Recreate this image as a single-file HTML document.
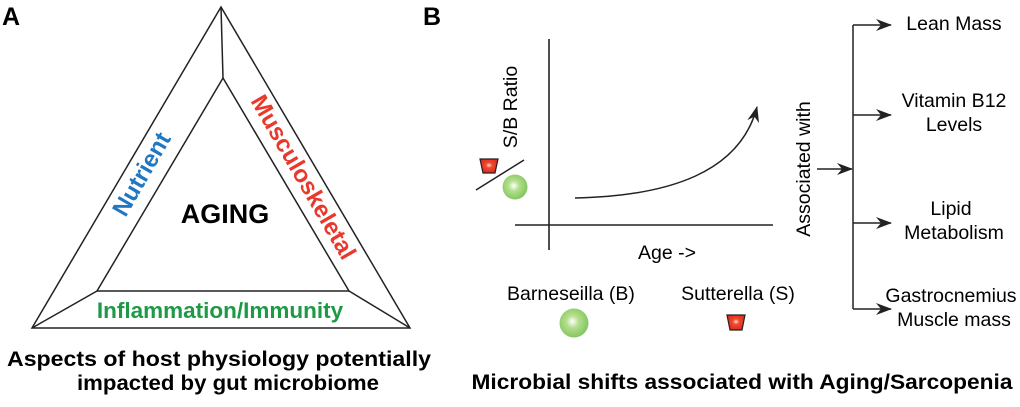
<!DOCTYPE html>
<html><head><meta charset="utf-8"><style>
html,body{margin:0;padding:0;background:#fff;width:1020px;height:407px;overflow:hidden}
svg text{font-family:"Liberation Sans",Arial,sans-serif}
</style></head><body>
<svg width="1020" height="407" viewBox="0 0 1020 407">
<defs>
<radialGradient id="gg" cx="0.45" cy="0.45" r="0.6"><stop offset="0" stop-color="#ffffff"/><stop offset="0.35" stop-color="#b6df8e"/><stop offset="1" stop-color="#7cc35a"/></radialGradient>
<radialGradient id="rg" cx="0.5" cy="0.45" r="0.6"><stop offset="0" stop-color="#ffe0d0"/><stop offset="0.3" stop-color="#f24a2e"/><stop offset="1" stop-color="#d8251a"/></radialGradient>
<marker id="ah" markerWidth="16" markerHeight="12" refX="15" refY="6" orient="auto" markerUnits="userSpaceOnUse"><path d="M0,0 L16,6 L0,12 L5,6 Z" fill="#222"/></marker>
</defs>
<!-- Panel A -->
<text x="2" y="25" font-size="25" font-weight="bold">A</text>
<g fill="none" stroke="#222" stroke-width="1.5">
<polygon points="221,7 32,328 410,328"/>
<polygon points="223,78 97,291 349,291"/>
<line x1="221" y1="7" x2="223" y2="78"/><line x1="32" y1="328" x2="97" y2="291"/><line x1="410" y1="328" x2="349" y2="291"/>
</g>
<text x="225" y="223" font-size="27" font-weight="bold" text-anchor="middle">AGING</text>
<text transform="translate(143,175) rotate(-60)" font-size="24" font-weight="bold" fill="#1f78c1" text-anchor="middle" dominant-baseline="middle">Nutrient</text>
<text transform="translate(302,178) rotate(60)" font-size="24" font-weight="bold" fill="#e8392c" text-anchor="middle" dominant-baseline="middle">Musculoskeletal</text>
<text x="220" y="318" font-size="22.5" font-weight="bold" fill="#1e9a46" text-anchor="middle">Inflammation/Immunity</text>
<text x="219" y="366" font-size="21" font-weight="bold" text-anchor="middle" textLength="424" lengthAdjust="spacingAndGlyphs">Aspects of host physiology potentially</text>
<text x="228" y="390" font-size="21" font-weight="bold" text-anchor="middle" textLength="302" lengthAdjust="spacingAndGlyphs">impacted by gut microbiome</text>
<!-- Panel B -->
<text x="423" y="25" font-size="25" font-weight="bold">B</text>
<g stroke="#222" stroke-width="1.6" fill="none">
<line x1="549" y1="39" x2="549" y2="250"/><line x1="515" y1="225" x2="773" y2="225"/>
</g>
<path d="M575,198 C670,196 740,172 757,107" stroke="#222" stroke-width="1.5" fill="none" marker-end="url(#ah)"/>
<text transform="translate(517,107) rotate(-90)" font-size="19.5" text-anchor="middle">S/B Ratio</text>
<text x="667" y="259" font-size="19.5" text-anchor="middle">Age -&gt;</text>
<polygon points="480,159 498,159 495,173 483,173" fill="url(#rg)" stroke="#222" stroke-width="1.2"/>
<line x1="476" y1="190" x2="524" y2="160" stroke="#222" stroke-width="1.5"/>
<circle cx="515" cy="187" r="12.5" fill="url(#gg)"/>
<text x="571" y="300" font-size="19.5" text-anchor="middle">Barneseilla (B)</text>
<circle cx="574" cy="323" r="14.5" fill="url(#gg)"/>
<text x="738" y="300" font-size="19.5" text-anchor="middle">Sutterella (S)</text>
<polygon points="727,315 745,315 742,330 730,330" fill="url(#rg)" stroke="#222" stroke-width="1.2"/>
<text transform="translate(810,169) rotate(-90)" font-size="19.5" text-anchor="middle">Associated with</text>
<g stroke="#222" stroke-width="1.5" fill="none">
<line x1="817" y1="169" x2="852" y2="169" marker-end="url(#ah)"/>
<line x1="853" y1="25" x2="853" y2="309"/>
<line x1="853" y1="25" x2="891" y2="25" marker-end="url(#ah)"/>
<line x1="853" y1="115" x2="891" y2="115" marker-end="url(#ah)"/>
<line x1="853" y1="223" x2="891" y2="223" marker-end="url(#ah)"/>
<line x1="853" y1="309" x2="891" y2="309" marker-end="url(#ah)"/>
</g>
<g font-size="19.5" text-anchor="middle">
<text x="954" y="30">Lean Mass</text>
<text x="954" y="107">Vitamin B12</text>
<text x="954" y="131">Levels</text>
<text x="951" y="215">Lipid</text>
<text x="954" y="239">Metabolism</text>
<text x="951" y="302">Gastrocnemius</text>
<text x="954" y="326">Muscle mass</text>
</g>
<text x="742" y="389" font-size="21" font-weight="bold" text-anchor="middle" textLength="541" lengthAdjust="spacingAndGlyphs">Microbial shifts associated with Aging/Sarcopenia</text>
</svg>
</body></html>
